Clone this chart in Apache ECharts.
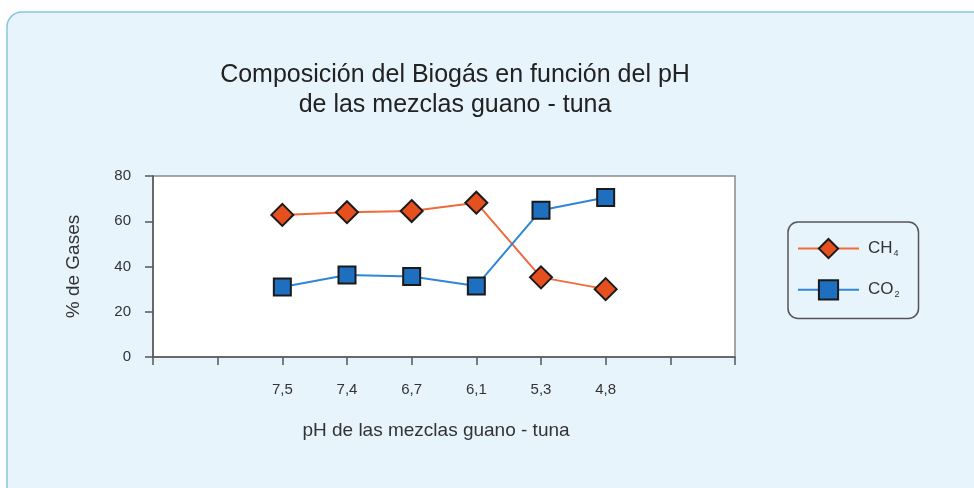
<!DOCTYPE html>
<html>
<head>
<meta charset="utf-8">
<script src="https://cdn.jsdelivr.net/npm/echarts@6/dist/echarts.min.js"></script>
<style>
  html, body { margin: 0; padding: 0; background: #ffffff; }
  #main { width: 974px; height: 488px; }
</style>
</head>
<body>
<div id="main"></div>
<script>
// data
const phLabels = ['', '', '7,5', '7,4', '6,7', '6,1', '5,3', '4,8', '', ''];
const ch4 = [null, null, 62.8, 64, 64.5, 68.2, 35.2, 30];
const co2 = [null, null, 30.9, 36.2, 35.6, 31.4, 64.9, 70.5];
const seriesNames = ['CH4', 'CO2'];

const font = 'Liberation Sans, Arial, sans-serif';

const myChart = echarts.init(document.getElementById('main'));
const chartOpts = {
  animation: false,
  textStyle: { fontFamily: font },
  graphic: [
    {
      type: 'rect',
      z: -10,
      shape: { x: 7, y: 12, width: 1000, height: 500, r: 15 },
      style: { fill: '#e8f4fc', stroke: '#86c6de', lineWidth: 1.5 }
    }
  ],
  title: {
    text: 'Composición del Biogás en función del pH\nde las mezclas guano - tuna',
    left: 450,
    top: 55,
    textAlign: 'center',
    textStyle: {
      fontFamily: font,
      fontSize: 25,
      fontWeight: 'normal',
      color: '#222',
      lineHeight: 30
    }
  },
  legend: {
    orient: 'vertical',
    left: 788,
    top: 222,
    padding: [16, 19, 18, 9],
    itemGap: 20,
    itemWidth: 61,
    itemHeight: 24,
    borderColor: '#555',
    borderWidth: 1.5,
    borderRadius: 10,
    backgroundColor: '#e8f4fc',
    data: seriesNames,
    formatter: function (name) {
      return '{m|' + name.slice(0, 2) + '}{s|' + name.slice(2) + '}';
    },
    textStyle: {
      fontFamily: font,
      color: '#333',
      padding: [0, 0, 0, 4],
      rich: {
        m: { fontSize: 17, fontFamily: font, color: '#333' },
        s: { fontSize: 9, fontFamily: font, color: '#333', padding: [10, 0, 0, 1] }
      }
    }
  },
  grid: { left: 153, top: 176, right: 239, bottom: 131, containLabel: false,
    show: true, backgroundColor: '#ffffff', borderColor: '#8a8a8a', borderWidth: 1.5 },
  xAxis: {
    type: 'category',
    data: phLabels,
    boundaryGap: false,
    name: 'pH de las mezclas guano - tuna',
    nameLocation: 'middle',
    nameGap: 64,
    nameTextStyle: { fontFamily: font, fontSize: 19, color: '#333', padding: [0, 16, 0, 0] },
    axisLine: { lineStyle: { color: '#555', width: 1.5 } },
    axisTick: { alignWithLabel: true, length: 8, lineStyle: { color: '#555', width: 1.5 } },
    axisLabel: { interval: 0, margin: 25, fontSize: 15, color: '#333', fontFamily: font },
    splitLine: { show: false }
  },
  yAxis: {
    type: 'value',
    min: 0,
    max: 80,
    interval: 20,
    name: '% de Gases',
    nameLocation: 'middle',
    nameGap: 70,
    nameTextStyle: { fontFamily: font, fontSize: 19, color: '#333' },
    axisLine: { show: true, lineStyle: { color: '#555', width: 1.5 } },
    axisTick: { show: true, length: 8, lineStyle: { color: '#555', width: 1.5 } },
    axisLabel: { margin: 22, fontSize: 15, color: '#333', fontFamily: font },
    splitLine: { show: false }
  },
  series: [
    {
      name: 'CH4',
      type: 'line',
      data: ch4,
      symbol: 'diamond',
      symbolSize: 22,
      lineStyle: { color: '#f06a3c', width: 2 },
      itemStyle: { color: '#e6501e', borderColor: '#1a1a1a', borderWidth: 2 }
    },
    {
      name: 'CO2',
      type: 'line',
      data: co2,
      symbol: 'rect',
      symbolSize: 17,
      lineStyle: { color: '#2f86d6', width: 2 },
      itemStyle: { color: '#1f6fc0', borderColor: '#1a1a1a', borderWidth: 2 }
    }
  ]
};
myChart.setOption(chartOpts);
</script>
</body>
</html>
